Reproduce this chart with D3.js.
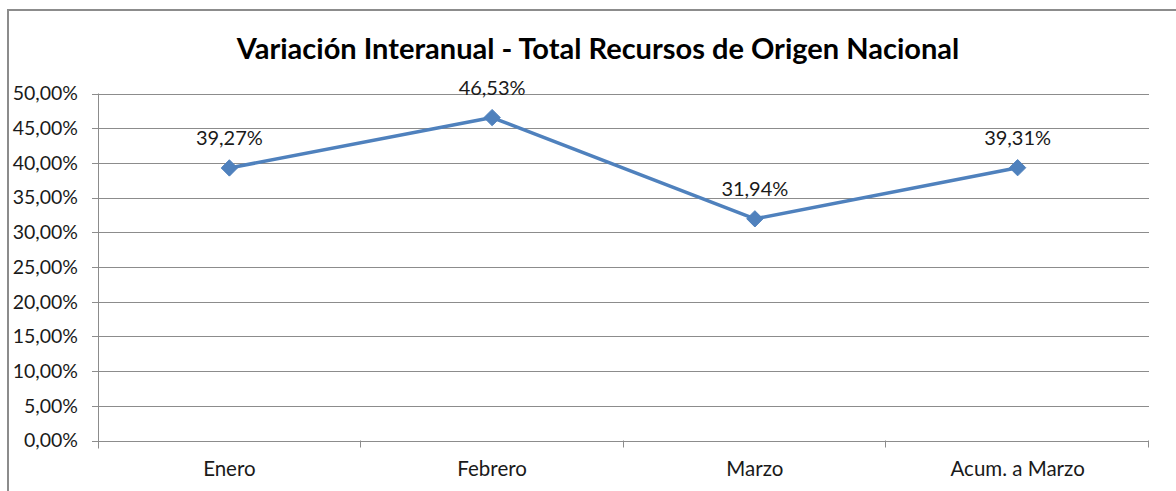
<!DOCTYPE html>
<html>
<head>
<meta charset="utf-8">
<script src="https://cdn.jsdelivr.net/npm/d3@7/dist/d3.min.js"></script>
<style>
  body { margin: 0; background: #fff; }
  svg { display: block; font-family: Lato, "Open Sans", sans-serif; }
</style>
</head>
<body>
<div id="chart"></div>
<script>
var titleText = "Variación Interanual - Total Recursos de Origen Nacional";
var months = ["Enero", "Febrero", "Marzo", "Acum. a Marzo"];
var variation = [39.27, 46.53, 31.94, 39.31];
var yTicks = [0, 5, 10, 15, 20, 25, 30, 35, 40, 45, 50];

var width = 1176, height = 491;
var margin = {top: 93.5, right: 27, bottom: 50.5, left: 98};

var svg = d3.select("#chart").append("svg")
  .attr("width", width)
  .attr("height", height);

// outer frame
svg.append("rect")
  .attr("x", 8).attr("y", 10)
  .attr("width", width + 20).attr("height", height + 20)
  .attr("fill", "none")
  .attr("stroke", "#8c8c8c")
  .attr("stroke-width", 2);

svg.append("text")
  .attr("x", 598).attr("y", 59)
  .attr("text-anchor", "middle")
  .attr("font-size", 29)
  .attr("font-weight", "bold")
  .attr("fill", "#000")
  .text(titleText);

var x = d3.scaleBand()
  .domain(months)
  .range([margin.left, width - margin.right]);

var y = d3.scaleLinear()
  .domain([0, 50])
  .range([height - margin.bottom, margin.top]);

var fmt = function(v) { return v.toFixed(2).replace(".", ",") + "%"; };

// gridlines
svg.append("g").selectAll("line")
  .data(yTicks)
  .enter().append("line")
  .attr("x1", margin.left - 6)
  .attr("x2", width - margin.right)
  .attr("y1", function(d) { return Math.round(y(d)) + 0.5; })
  .attr("y2", function(d) { return Math.round(y(d)) + 0.5; })
  .attr("stroke", "#8c8c8c")
  .attr("stroke-width", 1);

// y axis line
svg.append("line")
  .attr("x1", margin.left + 0.5).attr("x2", margin.left + 0.5)
  .attr("y1", y(50)).attr("y2", y(0) + 8)
  .attr("stroke", "#8c8c8c");

// category boundary ticks
var bounds = months.map(function(m) { return x(m) + x.bandwidth(); });
svg.append("g").selectAll("line")
  .data(bounds)
  .enter().append("line")
  .attr("x1", function(d) { return Math.round(d) - 0.5; })
  .attr("x2", function(d) { return Math.round(d) - 0.5; })
  .attr("y1", y(0)).attr("y2", y(0) + 7)
  .attr("stroke", "#8c8c8c");

// y tick labels
svg.append("g").selectAll("text")
  .data(yTicks)
  .enter().append("text")
  .attr("x", 78)
  .attr("y", function(d) { return y(d); })
  .attr("dy", "0.35em")
  .attr("text-anchor", "end")
  .attr("font-size", 19.5)
  .attr("fill", "#1a1a1a")
  .text(function(d) { return fmt(d); });

// x labels
svg.append("g").selectAll("text")
  .data(months)
  .enter().append("text")
  .attr("x", function(d) { return x(d) + x.bandwidth() / 2; })
  .attr("y", 469)
  .attr("dy", "0.35em")
  .attr("text-anchor", "middle")
  .attr("font-size", 20.5)
  .attr("fill", "#1a1a1a")
  .text(function(d) { return d; });

var line = d3.line()
  .x(function(d, i) { return x(months[i]) + x.bandwidth() / 2; })
  .y(function(d) { return y(d); });

svg.append("path")
  .datum(variation)
  .attr("d", line)
  .attr("fill", "none")
  .attr("stroke", "#4f81bd")
  .attr("stroke-width", 3.5)
  .attr("stroke-linejoin", "round");

svg.append("g").selectAll("path")
  .data(variation)
  .enter().append("path")
  .attr("d", d3.symbol().type(d3.symbolDiamond2).size(170))
  .attr("transform", function(d, i) {
    return "translate(" + (x(months[i]) + x.bandwidth() / 2) + "," + y(d) + ")";
  })
  .attr("fill", "#4f81bd")
  .attr("stroke", "#4f81bd")
  .attr("stroke-width", 1);

svg.append("g").selectAll("text")
  .data(variation)
  .enter().append("text")
  .attr("x", function(d, i) { return x(months[i]) + x.bandwidth() / 2; })
  .attr("y", function(d) { return y(d) - 30; })
  .attr("dy", "0.35em")
  .attr("text-anchor", "middle")
  .attr("font-size", 20)
  .attr("fill", "#1a1a1a")
  .text(function(d) { return fmt(d); });
</script>
</body>
</html>
